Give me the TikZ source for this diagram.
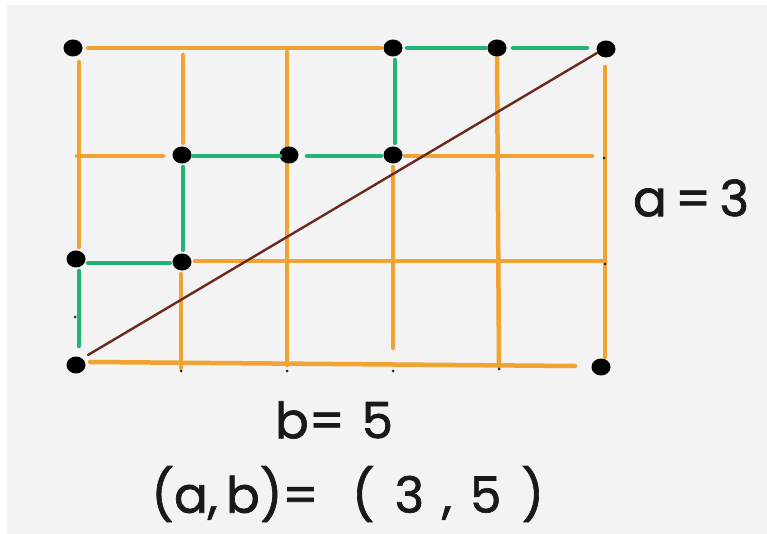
\documentclass[tikz,border=0pt]{standalone}
\usepackage{fontspec}
\setmainfont{Poppins}
\newfontfamily\handfont{Poppins}[FakeBold=1.3]
\definecolor{bgc}{HTML}{F3F3F3}
\definecolor{gridor}{HTML}{F0A232}
\definecolor{pathgr}{HTML}{22B473}
\definecolor{diagbr}{HTML}{6A2A1E}
\tikzset{
  gline/.style={draw=gridor, line width=4.5pt, line cap=round},
  pline/.style={draw=pathgr, line width=4.5pt, line cap=round},
  dline/.style={draw=diagbr, line width=2.4pt, line cap=round},
  dotnode/.style={ellipse, fill=black, minimum width=19pt, minimum height=17pt, inner sep=0pt},
  tick/.style={circle, fill=black!85, minimum size=3pt, inner sep=0pt},
  hand/.style={font=\handfont\fontsize{50}{60}\selectfont, text=black!90, inner sep=0pt}
}
\usetikzlibrary{shapes.geometric}
\begin{document}
\begin{tikzpicture}[x=1pt,y=-1pt]
\useasboundingbox (0,0) rectangle (767,534);
\fill[white] (0,0) rectangle (767,534);
\fill[bgc] (7,5) rectangle (767,534);

% grid end points
\coordinate (t1) at (88,48);   \coordinate (t2) at (381,48);
\coordinate (r2a) at (77,156); \coordinate (r2b) at (163,156);
\coordinate (r2c) at (405,156);\coordinate (r2d) at (592,156);
\coordinate (r3a) at (195,261);\coordinate (r3b) at (605,261);
\coordinate (b1) at (90,362);  \coordinate (b2) at (575,366);
\coordinate (v0a) at (79,62);  \coordinate (v0b) at (79,247);
\coordinate (v1a) at (183,55); \coordinate (v1b) at (183,143);
\coordinate (v1c) at (181,274);\coordinate (v1d) at (181,368);
\coordinate (v2a) at (287,52); \coordinate (v2b) at (287,365);
\coordinate (v3a) at (393,167);\coordinate (v3b) at (393,348);
\coordinate (v4a) at (497,58); \coordinate (v4b) at (499,366);
\coordinate (v5a) at (605,67); \coordinate (v5b) at (605,357);

% orange grid
\draw[gline] (t1) -- (t2);
\draw[gline] (r2a) -- (r2b);
\draw[gline] (r2c) -- (r2d);
\draw[gline] (r3a) -- (r3b);
\draw[gline] (b1) -- (b2);
\draw[gline] (v0a) -- (v0b);
\draw[gline] (v1a) -- (v1b);
\draw[gline] (v1c) -- (v1d);
\draw[gline] (v2a) -- (v2b);
\draw[gline] (v3a) -- (v3b);
\draw[gline] (v4a) -- (v4b);
\draw[gline] (v5a) -- (v5b);

% dots
\node[dotnode] (d00) at (76,365) {};
\node[dotnode] (d01) at (76,259) {};
\node[dotnode] (d11) at (182,262) {};
\node[dotnode] (d12) at (182,155) {};
\node[dotnode] (d22) at (289,155) {};
\node[dotnode] (d32) at (393,155) {};
\node[dotnode] (d33) at (393,48) {};
\node[dotnode] (d43) at (497,48) {};
\node[dotnode] (d53) at (606,49) {};
\node[dotnode] (d03) at (73,48) {};
\node[dotnode] (d50) at (601,367) {};

% green path
\coordinate (g0) at (79,346);
\coordinate (g5) at (587,48);
\draw[pline] (g0) -- (79,271);
\draw[pline] (88,263) -- (170,263);
\draw[pline] (183,250) -- (183,167);
\draw[pline] (193,156) -- (280,156);
\draw[pline] (307,156) -- (381,156);
\draw[pline] (395,143) -- (395,60);
\draw[pline] (407,48) -- (486,48);
\draw[pline] (513,48) -- (g5);

% diagonal
\coordinate (da) at (88,355);
\coordinate (db) at (597,53);
\draw[dline] (da) -- (db);

% small marks
\node[tick] (k1) at (604,158) {};
\node[tick] (k2) at (605,264) {};
\node[tick] (k3) at (75,317) {};
\node[tick] (k4) at (181,371) {};
\node[tick] (k5) at (287,371) {};
\node[tick] (k6) at (393,371) {};
\node[tick] (k7) at (499,369) {};

% labels
\node[hand] (la) at (691,198) {a\,=\,3};
\node[hand] (lb) at (334,420) {b=\,\,5};
\node[hand] (lc) at (235,494) {(a,\,b)=};
\node[hand] (ld) at (448,494) {(\hspace{20pt}3\hspace{18pt},\hspace{18pt}5\hspace{20pt})};
\end{tikzpicture}
\end{document}
